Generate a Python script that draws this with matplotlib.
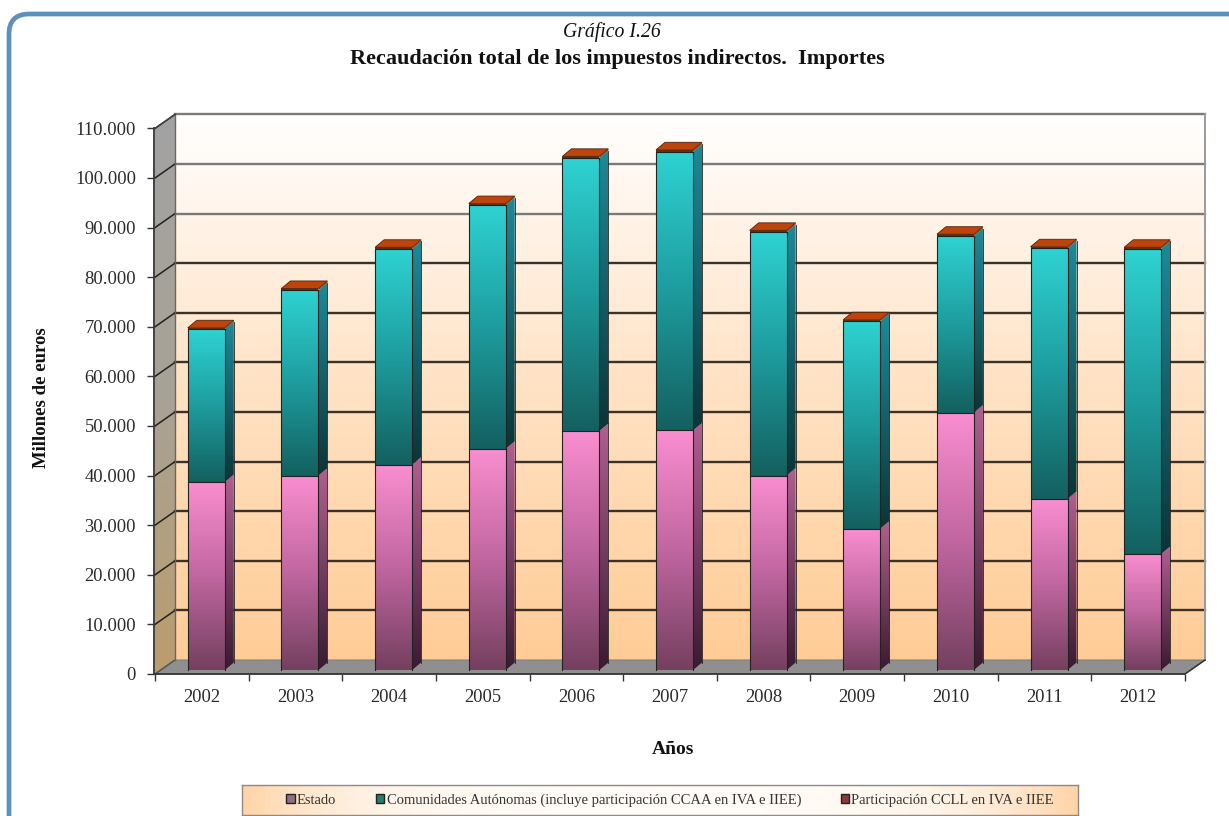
import numpy as np
import matplotlib
matplotlib.use("Agg")
import matplotlib.pyplot as plt
from matplotlib.colors import LinearSegmentedColormap as LSC
from matplotlib.patches import Polygon, Patch, FancyBboxPatch

years = ["2002", "2003", "2004", "2005", "2006", "2007", "2008", "2009", "2010", "2011", "2012"]
estado = [37900, 39200, 41400, 44600, 48200, 48300, 39200, 28500, 51900, 34500, 23400]
ccaa = [30800, 37400, 43500, 49100, 55000, 56200, 49100, 41800, 35600, 50500, 61500]
ccll = [300, 320, 330, 340, 360, 380, 340, 320, 360, 330, 330]
yticks = list(range(0, 110001, 10000))
series_names = ["Estado", "Comunidades Autónomas (incluye participación CCAA en IVA e IIEE)",
                "Participación CCLL en IVA e IIEE"]

plt.rcParams['font.family'] = ['Liberation Serif', 'DejaVu Serif']
W, H = 1229, 816
fig = plt.figure(figsize=(W / 100, H / 100), dpi=100, facecolor='white')

# rounded frame (runs off the right and bottom of the picture)
frame_ax = fig.add_axes([0, 0, 1, 1], zorder=0)
frame_ax.set_xlim(0, W); frame_ax.set_ylim(H, 0); frame_ax.axis('off')
frame_ax.add_patch(FancyBboxPatch((9, 14), 1260, 860, boxstyle="round,pad=0,rounding_size=20",
                                  fc='white', ec='#5C90BE', lw=3.4, clip_on=True))

# plot area: pixel geometry of the projected chart
L, R, T, B = 154, 1212, 100, 674
PX_CAT = 93.64
PX_VAL = 4.96 / 1000
ax = fig.add_axes([L / W, 1 - B / H, (R - L) / W, (B - T) / H], zorder=2)
ax.patch.set_alpha(0)
ax.set_xlim(-0.5 - 1 / PX_CAT, -0.5 + (R - L - 1) / PX_CAT)
ax.set_ylim(0, (B - T) / PX_VAL)
ux, uy = 1 / PX_CAT, 1 / PX_VAL  # data units per pixel
DX, DY = 20 * ux, 14 * uy
x0, x1 = -0.5, 10.5
ymax = 110000


def grad(poly, stops, z=1):
    pts = np.array(poly)
    cm = LSC.from_list('g', stops)
    xa, xb = pts[:, 0].min(), pts[:, 0].max()
    ya, yb = pts[:, 1].min(), pts[:, 1].max()
    arr = np.linspace(0, 1, 256).reshape(-1, 1)
    im = ax.imshow(arr, cmap=cm, origin='lower', extent=(xa, xb, ya, yb), aspect='auto',
                   zorder=z, vmin=0, vmax=1, interpolation='bilinear')
    p = Polygon(poly, closed=True, transform=ax.transData, fc='none', ec='none')
    ax.add_patch(p)
    im.set_clip_path(p)
    return im


# back wall, side wall, floor
grad([(x0 + DX, DY), (x1 + DX, DY), (x1 + DX, ymax + DY), (x0 + DX, ymax + DY)],
     ['#FFCC96', '#FFE2C4', '#FFFFFF'], z=1)
grad([(x0, 0), (x0 + DX, DY), (x0 + DX, ymax + DY), (x0, ymax)], ['#BC9C6E', '#A8A296', '#A3A3A3'], z=1)
ax.add_patch(Polygon([(x0, 0), (x1, 0), (x1 + DX, DY), (x0 + DX, DY)], fc='#8F8F8F', ec='#808080', lw=0.8, zorder=1.2))

# gridlines
for v in yticks:
    col = '#7A7A7A' if v >= 90000 else '#3A3228'
    if v > 0:
        ax.plot([x0 + DX, x1 + DX], [v + DY, v + DY], color=col, lw=1.7, zorder=1.5)
    ax.plot([x0, x0 + DX], [v, v + DY], color='#222222' if v else '#555555', lw=1.1, zorder=1.5)
ax.plot([x0 + DX, x0 + DX], [DY, ymax + DY], color='#666666', lw=1.0, zorder=1.5)
ax.plot([x1 + DX, x1 + DX], [DY, ymax + DY], color='#9A9A9A', lw=1.4, zorder=1.5)
ax.plot([x0, x0 + DX], [ymax, ymax + DY], color='#444444', lw=1.0, zorder=1.5)
ax.plot([x1, x1 + DX], [0, DY], color='#333333', lw=1.1, zorder=1.5)

# 3D columns
bw = 37 * ux
off = 4.5 * ux
base = 4 * uy
ddx, ddy = 9 * ux, 7.5 * uy
colors = [(['#74405F', '#C066A0', '#FA8ED0'], ['#3A1A32', '#B0608F']),
          (['#14605F', '#1E9C9E', '#2FD2D2'], ['#0B3438', '#1E8A98'])]
for i in range(len(years)):
    xl = i + off - bw / 2
    xr = xl + bw
    bottom = base
    for vals, (front, side) in zip([estado, ccaa], colors):
        top = bottom + vals[i]
        grad([(xl, bottom), (xr, bottom), (xr, top), (xl, top)], front, z=3)
        grad([(xr, bottom), (xr + ddx, bottom + ddy), (xr + ddx, top + ddy), (xr, top)], side, z=3)
        ax.plot([xl, xl, xr, xr], [bottom, top, top, bottom], color='#222222', lw=0.8, zorder=3.5)
        ax.plot([xr + ddx, xr + ddx], [bottom + ddy, top + ddy], color='#222222', lw=0.6, zorder=3.5)
        bottom = top
    top = bottom + ccll[i]
    ax.add_patch(Polygon([(xl, top), (xr, top), (xr + ddx, top + ddy), (xl + ddx, top + ddy)],
                         fc='#BE440C', ec='#4A2410', lw=0.6, zorder=4))
    ax.add_patch(Polygon([(xr, bottom), (xr + ddx, bottom + ddy), (xr + ddx, top + ddy), (xr, top)],
                         fc='#8A3A10', ec='none', zorder=4))
    ax.add_patch(Polygon([(xl, bottom), (xr, bottom), (xr, top), (xl, top)],
                         fc='#5A3012', ec='none', zorder=4))

# axes lines / ticks
for s in ['top', 'right']:
    ax.spines[s].set_visible(False)
ax.spines['left'].set_bounds(0, ymax)
ax.spines['bottom'].set_bounds(x0, x1)
for s in ['left', 'bottom']:
    ax.spines[s].set_color('#333333'); ax.spines[s].set_linewidth(1.3)
    ax.spines[s].set_zorder(5)
ax.set_yticks(yticks)
ax.set_yticklabels([f"{v:,}".replace(",", ".") for v in yticks], fontsize=13.3, color='#2A2A2A')
ax.set_xticks(np.arange(-0.5, 11, 1), minor=False)
ax.set_xticklabels([])
ax.tick_params(axis='y', length=5, width=1, color='#333333', pad=8)
ax.tick_params(axis='x', length=5, width=1, color='#333333', direction='out')
ax.set_xticks(range(len(years)), minor=True)
ax.set_xticklabels(years, minor=True, fontsize=13.3, color='#2A2A2A')
ax.tick_params(axis='x', which='minor', length=0, pad=11)

# texts
fig.text(612 / W, 1 - 32 / H, "Gráfico I.26", ha='center', va='center', fontsize=14.2, style='italic', color='#111111')
fig.text(617 / W, 1 - 59 / H, "Recaudación total de los impuestos indirectos.  Importes", ha='center', va='center',
         fontsize=16, weight='bold', color='#111111')
fig.text(42 / W, 1 - 398 / H, "Millones de euros", rotation=90, ha='center', va='center', fontsize=13.5, weight='bold',
         color='#111111')
fig.text(673 / W, 1 - 750 / H, "Años", ha='center', va='center', fontsize=14, weight='bold', color='#111111')

# legend with gradient background
lb = fig.add_axes([242 / W, 1 - 815 / H, 836 / W, 30 / H], zorder=3)
lb.imshow((np.abs(np.linspace(-1, 1, 256)) ** 4).reshape(1, -1), aspect='auto',
          cmap=LSC.from_list('l', ['#FFFBF6', '#FFD3A6']), vmin=0, vmax=1)
lb.set_xticks([]); lb.set_yticks([])
for s in lb.spines.values():
    s.set_color('#8A8A8A'); s.set_linewidth(1)
handles = [Patch(fc=c, ec='#222222') for c in ['#8F6F88', '#1E7F6E', '#8A3A3A']]
leg = fig.legend(handles, series_names, ncol=3, loc='center', bbox_to_anchor=(670 / W, 1 - 800 / H),
                 frameon=False, fontsize=10.5, handlelength=0.6, handleheight=0.6, handletextpad=0.15,
                 columnspacing=2.7)
leg.set_zorder(6)
for t in leg.get_texts():
    t.set_color('#333333')

fig.savefig('out.png', dpi=100)
